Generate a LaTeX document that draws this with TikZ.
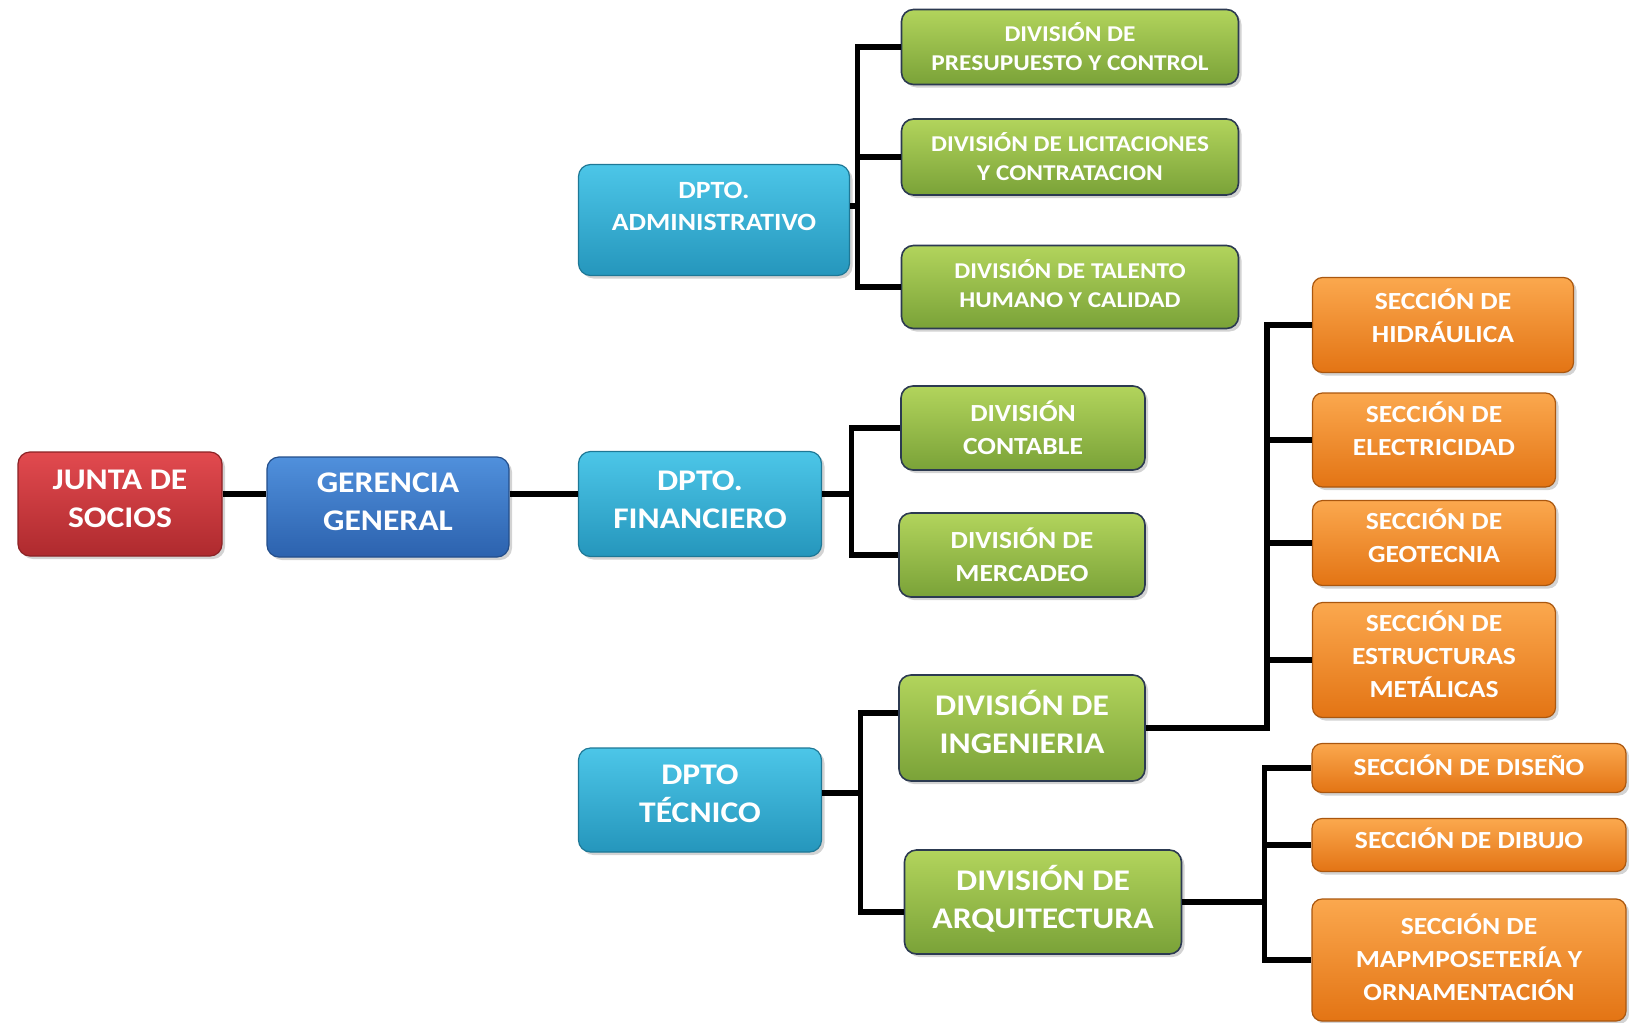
\documentclass[tikz,border=0pt]{standalone}
\usepackage{fontspec}
\newfontfamily\orgfont{Carlito}[FakeStretch=1.12]
\usepackage{tikz}
\usetikzlibrary{positioning, shadows}

\definecolor{redtop}{HTML}{E24A4F}
\definecolor{redbot}{HTML}{AE2A2E}
\definecolor{bluetop}{HTML}{5090DC}
\definecolor{bluebot}{HTML}{2C62AE}
\definecolor{cyantop}{HTML}{4CC6E8}
\definecolor{cyanbot}{HTML}{2596BC}
\definecolor{greentop}{HTML}{B2D45C}
\definecolor{greenbot}{HTML}{7AA238}
\definecolor{orangetop}{HTML}{FBA84E}
\definecolor{orangebot}{HTML}{E37414}

\begin{document}
\begin{tikzpicture}[
    x=0.5pt, y=-0.5pt,
    box/.style={rectangle, rounded corners=6pt, align=center, text=white, inner sep=2pt, drop shadow={shadow xshift=1.5pt, shadow yshift=-1.5pt, opacity=0.35}},
    redbox/.style={box, top color=redtop, bottom color=redbot, draw=redbot!80!black, line width=0.6pt},
    bluebox/.style={box, top color=bluetop, bottom color=bluebot, draw=bluebot!80!black, line width=0.6pt},
    cyanbox/.style={box, top color=cyantop, bottom color=cyanbot, draw=cyanbot!80!black, line width=0.6pt},
    greenbox/.style={box, top color=greentop, bottom color=greenbot, draw=greenbot!60!blue!60!black, line width=0.8pt},
    orangebox/.style={box, rounded corners=5pt, top color=orangetop, bottom color=orangebot, draw=orangebot!75!black, line width=0.6pt},
    bigtext/.style={font=\orgfont\bfseries\fontsize{15}{19}\selectfont},
    midtext/.style={font=\orgfont\bfseries\fontsize{12.4}{16}\selectfont},
    smalltext/.style={font=\orgfont\bfseries\fontsize{11.3}{14.5}\selectfont},
    sectext/.style={font=\orgfont\bfseries\fontsize{12.3}{16.6}\selectfont},
    lifted/.style={execute at end node={\rule[-#1]{0pt}{#1}}},
    link/.style={line width=2.6pt, black}
]
    \useasboundingbox (0,0) rectangle (1629,1023);
    \clip (0,0) rectangle (1629,1023);

    % Top of the chart
    \node[redbox, bigtext, lifted=5pt, minimum width=102pt, minimum height=52pt] (junta) at (120,504) {JUNTA DE\\SOCIOS};
    \node[bluebox, bigtext, lifted=5pt, minimum width=121pt, minimum height=50pt] (gerencia) at (388,507) {GERENCIA\\GENERAL};

    % Departments
    \node[cyanbox, midtext, lifted=14pt, minimum width=135.5pt, minimum height=55.5pt] (admin) at (714,220) {DPTO.\\ADMINISTRATIVO};
    \node[cyanbox, bigtext, lifted=4pt, minimum width=121.5pt, minimum height=52.5pt] (financiero) at (700,504) {DPTO.\\FINANCIERO};
    \node[cyanbox, bigtext, lifted=6pt, minimum width=121.5pt, minimum height=52pt] (tecnico) at (700,800) {DPTO\\TÉCNICO};

    % Divisions (administrativo)
    \node[greenbox, smalltext, minimum width=168.5pt, minimum height=37.5pt] (presupuesto) at (1070,47) {DIVISIÓN DE\\PRESUPUESTO Y CONTROL};
    \node[greenbox, smalltext, minimum width=168.5pt, minimum height=38pt] (licitaciones) at (1070,157) {DIVISIÓN DE LICITACIONES\\Y CONTRATACION};
    \node[greenbox, smalltext, lifted=3pt, minimum width=168.5pt, minimum height=41.5pt] (talento) at (1070,287) {DIVISIÓN DE TALENTO\\HUMANO Y CALIDAD};

    % Divisions (financiero)
    \node[greenbox, sectext, minimum width=122pt, minimum height=42pt] (contable) at (1023,428) {DIVISIÓN\\CONTABLE};
    \node[greenbox, sectext, minimum width=123pt, minimum height=42pt] (mercadeo) at (1022,555) {DIVISIÓN DE\\MERCADEO};

    % Divisions (tecnico)
    \node[greenbox, bigtext, lifted=6pt, minimum width=123pt, minimum height=53pt] (ingenieria) at (1022,728) {DIVISIÓN DE\\INGENIERIA};
    \node[greenbox, bigtext, lifted=5pt, minimum width=138.5pt, minimum height=52pt] (arquitectura) at (1043,902) {DIVISIÓN DE\\ARQUITECTURA};

    % Sections (ingenieria)
    \node[orangebox, sectext, lifted=9pt, minimum width=130.5pt, minimum height=47.5pt] (hidraulica) at (1443,325) {SECCIÓN DE\\HIDRÁULICA};
    \node[orangebox, sectext, lifted=11pt, minimum width=121.5pt, minimum height=47pt] (electricidad) at (1434,440) {SECCIÓN DE\\ELECTRICIDAD};
    \node[orangebox, sectext, lifted=7pt, minimum width=121.5pt, minimum height=42.5pt] (geotecnia) at (1434,543) {SECCIÓN DE\\GEOTECNIA};
    \node[orangebox, sectext, lifted=6pt, minimum width=121.5pt, minimum height=57.5pt] (estructuras) at (1434,660) {SECCIÓN DE\\ESTRUCTURAS\\METÁLICAS};

    % Sections (arquitectura)
    \node[orangebox, sectext, lifted=3pt, minimum width=157pt, minimum height=24.5pt] (diseno) at (1469,768) {SECCIÓN DE DISEÑO};
    \node[orangebox, sectext, lifted=7pt, minimum width=157pt, minimum height=26.5pt] (dibujo) at (1469,845) {SECCIÓN DE DIBUJO};
    \node[orangebox, sectext, lifted=3pt, minimum width=157pt, minimum height=61pt] (mampo) at (1469,960) {SECCIÓN DE\\MAPMPOSETERÍA Y\\ORNAMENTACIÓN};

    % Main line
    \coordinate (mainline) at ([yshift=5pt]junta.east);
    \draw[link] (mainline) -- (mainline -| gerencia.west);
    \draw[link] (mainline -| gerencia.east) -- (mainline -| financiero.west);

    % Administrativo branch
    \coordinate (admbar) at ([xshift=-21.5pt]presupuesto.west);
    \coordinate (admout) at ([yshift=7pt]admin.east);
    \draw[link] (admout) -- (admout -| admbar);
    \draw[link] (presupuesto.west) -- (admbar) |- (talento.west);
    \draw[link] (admbar |- licitaciones.west) -- (licitaciones.west);

    % Financiero branch
    \coordinate (finbar) at ([xshift=-24.5pt]contable.west);
    \draw[link] (mainline -| financiero.east) -- (mainline -| finbar);
    \draw[link] (contable.west) -- (finbar) |- (mercadeo.west);

    % Tecnico branch
    \coordinate (tecbar) at ([xshift=-19pt, yshift=7.5pt]ingenieria.west);
    \coordinate (tecout) at ([yshift=3.5pt]tecnico.east);
    \coordinate (arqin) at ([yshift=-5pt]arquitectura.west);
    \draw[link] (tecout) -- (tecout -| tecbar);
    \draw[link] (tecbar -| ingenieria.west) -- (tecbar) |- (arqin);

    % Ingenieria branch
    \coordinate (ingbar) at ([xshift=-22.5pt]hidraulica.west);
    \draw[link] (ingenieria.east) -| (ingbar) -- (hidraulica.west);
    \foreach \s in {electricidad, geotecnia, estructuras}
        \draw[link] (ingbar |- \s.west) -- (\s.west);

    % Arquitectura branch
    \coordinate (arqbar) at ([xshift=-23.5pt]diseno.west);
    \draw[link] (arquitectura.east) -- (arquitectura.east -| arqbar);
    \draw[link] (diseno.west) -- (arqbar) |- (mampo.west);
    \draw[link] (arqbar |- dibujo.west) -- (dibujo.west);

\end{tikzpicture}
\end{document}
